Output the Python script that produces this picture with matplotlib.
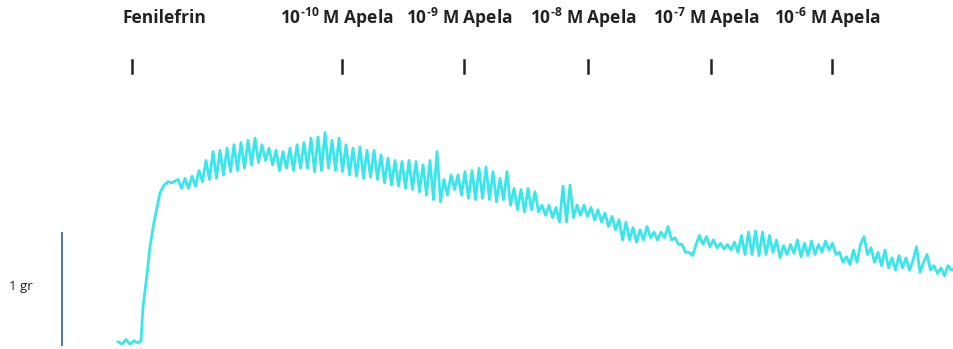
import numpy as np
import matplotlib.pyplot as plt

plt.rcParams['font.family'] = ['Open Sans', 'DejaVu Sans']
plt.rcParams['mathtext.fontset'] = 'custom'
plt.rcParams['mathtext.rm'] = 'Open Sans'
plt.rcParams['mathtext.bf'] = 'Open Sans:bold'

# baseline and phenylephrine rise (time in min, tension in gr)
rise_t = [0.0, 0.4, 0.8, 1.2, 1.6, 2.0, 2.3, 2.5, 2.9, 3.2, 3.6, 3.9, 4.2, 4.6, 5.0, 5.4, 5.8]
rise_g = [0.01, -0.01, 0.03, -0.01, 0.02, 0.0, 0.02, 0.32, 0.61, 0.86, 1.08, 1.21, 1.34,
          1.41, 1.44, 1.43, 1.45]

# oscillating part, sampled every 0.35 min from t = 6.0
osc_t0 = 6.0
osc_dt = 0.35
osc_g = [
    1.46, 1.38, 1.47, 1.38, 1.49, 1.40, 1.54, 1.44, 1.63, 1.46,
    1.71, 1.47, 1.72, 1.50, 1.74, 1.53, 1.77, 1.54, 1.79, 1.56,
    1.81, 1.59, 1.83, 1.61, 1.77, 1.63, 1.74, 1.59, 1.72, 1.54,
    1.71, 1.56, 1.74, 1.54, 1.77, 1.56, 1.79, 1.56, 1.83, 1.53,
    1.84, 1.54, 1.88, 1.56, 1.81, 1.54, 1.83, 1.53, 1.77, 1.50,
    1.74, 1.49, 1.75, 1.47, 1.72, 1.48, 1.72, 1.46, 1.68, 1.43,
    1.65, 1.41, 1.63, 1.40, 1.62, 1.38, 1.63, 1.37, 1.62, 1.35,
    1.59, 1.32, 1.63, 1.28, 1.71, 1.26, 1.46, 1.32, 1.50, 1.37,
    1.50, 1.32, 1.53, 1.29, 1.54, 1.28, 1.56, 1.29, 1.57, 1.28,
    1.53, 1.26, 1.47, 1.28, 1.53, 1.23, 1.38, 1.19, 1.37, 1.17,
    1.38, 1.19, 1.35, 1.17, 1.23, 1.14, 1.23, 1.12, 1.21, 1.08,
    1.40, 1.08, 1.41, 1.12, 1.23, 1.14, 1.23, 1.13, 1.21, 1.10,
    1.19, 1.08, 1.16, 1.04, 1.13, 1.01, 1.10, 0.92, 1.08, 0.92,
    1.03, 0.90, 1.01, 0.92, 1.04, 0.94, 0.99, 0.92, 0.99, 0.94,
    1.04, 0.92, 0.94, 0.88, 0.88, 0.81, 0.81, 0.78, 0.88, 0.96,
    0.88, 0.95, 0.86, 0.92, 0.85, 0.89, 0.84, 0.88, 0.83, 0.90,
    0.81, 0.96, 0.79, 0.99, 0.79, 1.00, 0.78, 0.99, 0.79, 0.96,
    0.81, 0.92, 0.76, 0.87, 0.79, 0.88, 0.80, 0.92, 0.77, 0.89,
    0.78, 0.91, 0.79, 0.88, 0.81, 0.91, 0.83, 0.89, 0.79, 0.81,
    0.72, 0.77, 0.70, 0.83, 0.72, 0.88, 0.95, 0.79, 0.85, 0.72,
    0.81, 0.69, 0.83, 0.67, 0.76, 0.65, 0.78, 0.67, 0.76, 0.65,
    0.74, 0.86, 0.63, 0.72, 0.79, 0.65, 0.69, 0.62, 0.67, 0.60,
    0.69, 0.65, 0.67,
]

event_t = [1.4, 22.4, 34.6, 47.0, 59.3, 71.4]
event_labels = ['Fenilefrin',
                '$\\mathbf{10^{\u201110}}$ M Apela',
                '$\\mathbf{10^{\u20119}}$ M Apela',
                '$\\mathbf{10^{\u20118}}$ M Apela',
                '$\\mathbf{10^{\u20117}}$ M Apela',
                '$\\mathbf{10^{\u20116}}$ M Apela']

scale_gr = 1.0


def main():
    t = np.concatenate([rise_t, osc_t0 + osc_dt * np.arange(len(osc_g))])
    g = np.concatenate([rise_g, osc_g])

    fig = plt.figure(figsize=(9.54, 3.49), dpi=100)
    ax = fig.add_axes([0, 0, 1, 1])
    ax.set_xlim(-11.8, 83.6)
    ax.set_ylim(-0.054, 3.0625)
    ax.axis('off')

    ax.plot(t, g, color='#38e6ec', lw=2.0, solid_joinstyle='round')

    # event markers and labels
    for i, (et, lab) in enumerate(zip(event_t, event_labels)):
        ax.plot([et, et], [2.41, 2.53], color='#222222', lw=1.8)
        if i == 0:
            ax.text(et - 0.9, 2.90, lab, ha='left', va='center',
                    fontsize=12.5, fontweight='bold', color='#222222')
        else:
            ax.text(et - 0.5, 2.90, lab, ha='center', va='center',
                    fontsize=12.5, fontweight='bold', color='#222222')

    # scale bar
    ax.plot([-5.6, -5.6], [-0.02, -0.02 + scale_gr], color='#4a78a0', lw=1.4)
    ax.text(-9.7, 0.5, '1 gr', ha='center', va='center', fontsize=9.5, color='#222222')

    fig.savefig('out.png', dpi=100)


if __name__ == '__main__':
    main()
